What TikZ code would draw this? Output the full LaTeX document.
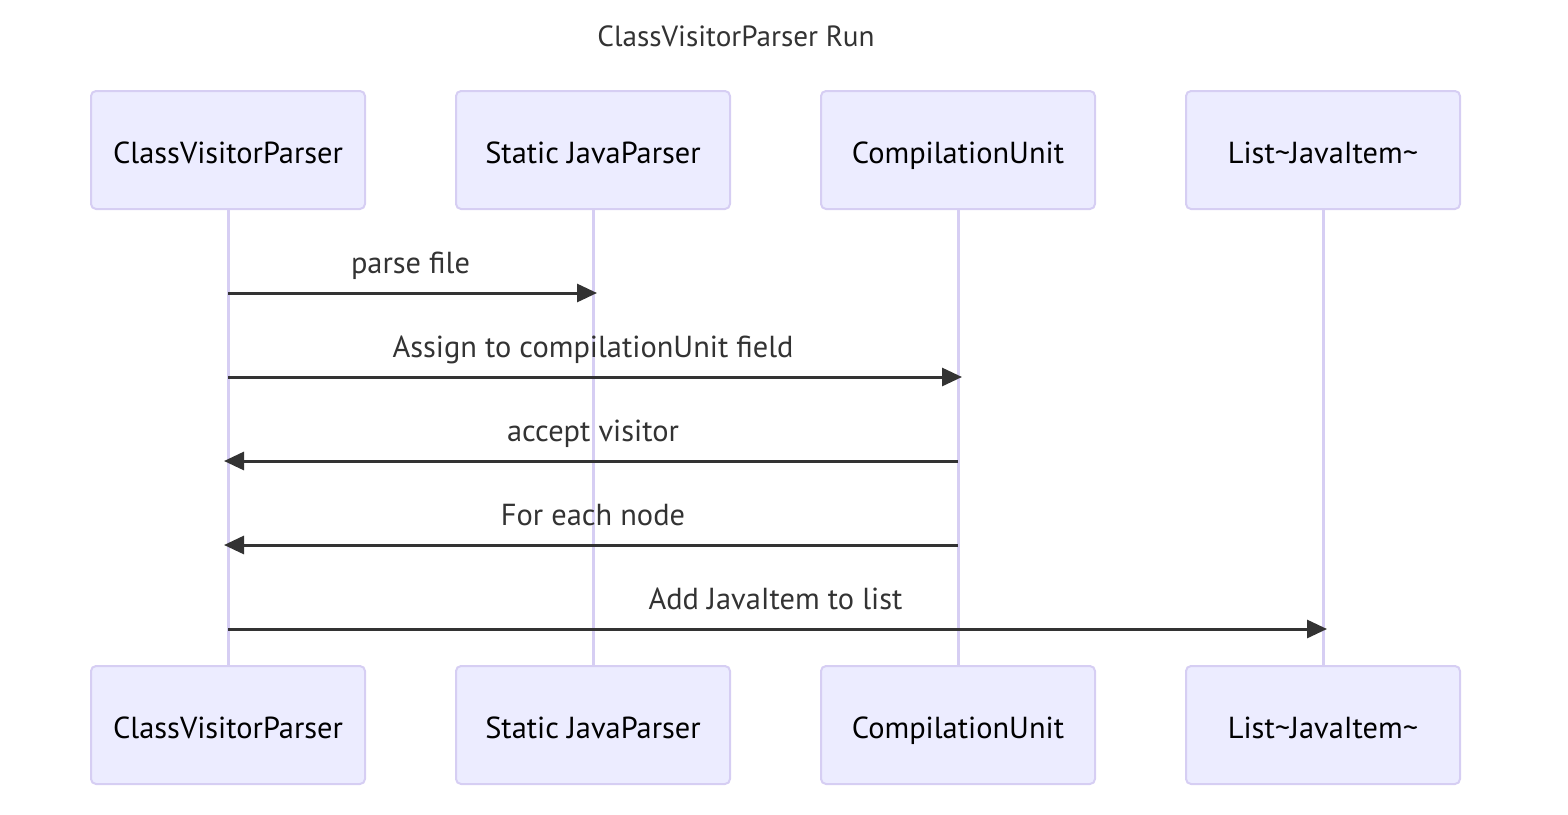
\documentclass[tikz,border=0pt]{standalone}
\usepackage{fontspec}
\setmainfont{PT Sans}
\usetikzlibrary{arrows.meta}
\definecolor{actfill}{HTML}{ECECFF}
\definecolor{actline}{HTML}{D6CEF3}
\definecolor{msgline}{HTML}{333333}
\tikzset{
  actor/.style={draw=actline, fill=actfill, line width=1pt, rounded corners=2.5pt,
    minimum width=137pt, minimum height=59pt, inner sep=0pt,
    text height=15pt, text depth=2pt,
    font=\fontsize{15.2}{17}\selectfont},
  lifeline/.style={draw=actline, line width=1.5pt},
  msg/.style={draw=msgline, line width=1.5pt, shorten >=-2pt,
    -{Triangle[length=10pt,width=9pt]}},
  msglabel/.style={midway, anchor=base, yshift=10pt, text=msgline,
    font=\fontsize{15.2}{17}\selectfont}
}
\begin{document}
\begin{tikzpicture}[x=0.5pt,y=-0.5pt]
    \useasboundingbox (0,0) rectangle (1568,814);
    % titolo
    \node[text=msgline, font=\fontsize{14.6}{17}\selectfont] (title) at (736,36) {ClassVisitorParser Run};
    % attori sopra
    \node[actor] (cvpT) at (228,150) {ClassVisitorParser};
    \node[actor] (sjpT) at (593,150) {Static JavaParser};
    \node[actor] (cuT) at (958,150) {CompilationUnit};
    \node[actor] (listT) at (1323,150) {List\textasciitilde JavaItem\textasciitilde};
    % attori sotto
    \node[actor] (cvpB) at (228,725) {ClassVisitorParser};
    \node[actor] (sjpB) at (593,725) {Static JavaParser};
    \node[actor] (cuB) at (958,725) {CompilationUnit};
    \node[actor] (listB) at (1323,725) {List\textasciitilde JavaItem\textasciitilde};
    % linee di vita
    \draw[lifeline] (cvpT.south) -- (cvpB.north);\draw[lifeline] (sjpT.south) -- (sjpB.north);
    \draw[lifeline] (cuT.south) -- (cuB.north);\draw[lifeline] (listT.south) -- (listB.north);
    % livelli dei messaggi
    \coordinate (m1) at (0,293);\coordinate (m2) at (0,377);\coordinate (m3) at (0,461);
    \coordinate (m4) at (0,545);\coordinate (m5) at (0,629);
    % messaggi
    \draw[msg] (cvpT |- m1) -- (sjpT |- m1) node[msglabel] {parse file};
    \draw[msg] (cvpT |- m2) -- (cuT |- m2) node[msglabel] {Assign to compilationUnit field};
    \draw[msg] (cuT |- m3) -- (cvpT |- m3) node[msglabel] {accept visitor};
    \draw[msg] (cuT |- m4) -- (cvpT |- m4) node[msglabel] {For each node};
    \draw[msg] (cvpT |- m5) -- (listT |- m5) node[msglabel] {Add JavaItem to list};
\end{tikzpicture}
\end{document}
